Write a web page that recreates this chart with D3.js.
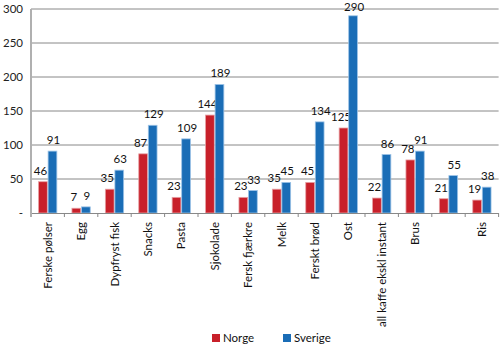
<!DOCTYPE html>
<html><head><meta charset="utf-8">
<script src="https://cdn.jsdelivr.net/npm/d3@7"></script>
<style>body{margin:0;background:#fff}svg{display:block}text{font-family:Lato,"Open Sans",sans-serif}</style>
</head><body>
<svg id="c" width="500" height="346"></svg>
<script>
const categories = ["Ferske pølser","Egg","Dypfryst fisk","Snacks","Pasta","Sjokolade","Fersk fjærkre","Melk","Ferskt brød","Ost","all kaffe ekskl instant","Brus","","Ris"];
const norge = [46,7,35,87,23,144,23,35,45,125,22,78,21,19];
const sverige = [91,9,63,129,109,189,33,45,134,290,86,91,55,38];
const yTicks = [0,50,100,150,200,250,300];
const seriesNames = ["Norge","Sverige"];
const colors = ["#c8202a","#1a6db6"];
const strokes = ["#e6a0a4","#9cc3e6"];

const svg = d3.select("#c");
const x0 = 31, x1 = 498.6, yTop = 9, yBot = 213;
const x = d3.scaleBand().domain(d3.range(categories.length)).range([x0,x1]).paddingInner(0).paddingOuter(0);
const y = d3.scaleLinear().domain([0,300]).range([yBot,yTop]);
const inner = d3.scaleBand().domain([0,1]).range([0,x.bandwidth()]).paddingInner(0).paddingOuter(0.75);

svg.append("g").selectAll("line").data(yTicks.filter(d=>d>0)).join("line")
  .attr("x1",x0).attr("x2",x1).attr("y1",d=>y(d)).attr("y2",d=>y(d))
  .attr("stroke","#6b6b6b").attr("stroke-width",0.8);

svg.append("g").selectAll("text").data(yTicks).join("text")
  .attr("x",23).attr("y",d=>y(d)+4).attr("text-anchor","end")
  .attr("font-size",11.5).attr("fill","#222").text(d=>d===0?"-":d);

const data = [norge, sverige];
data.forEach((vals,s)=>{
  svg.append("g").selectAll("rect").data(vals).join("rect")
    .attr("x",(d,i)=>x(i)+inner(s)+0.4).attr("width",inner.bandwidth()-0.8)
    .attr("y",d=>y(d)).attr("height",d=>yBot-y(d))
    .attr("fill",colors[s]).attr("stroke",strokes[s]).attr("stroke-width",0.8);
  svg.append("g").selectAll("text").data(vals).join("text")
    .attr("x",(d,i)=>x(i)+inner(s)+inner.bandwidth()/2+(s===0?-2.5:1))
    .attr("y",d=>Math.max(y(d)-7,10.5)).attr("text-anchor","middle")
    .attr("font-size",11.5).attr("fill","#111").text(d=>d);
});

svg.append("line").attr("x1",x0).attr("x2",x1).attr("y1",yBot+0.5).attr("y2",yBot+0.5).attr("stroke","#888").attr("stroke-width",1);
svg.append("g").selectAll("line").data(d3.range(categories.length+1)).join("line")
  .attr("x1",i=>x0+i*x.bandwidth()).attr("x2",i=>x0+i*x.bandwidth())
  .attr("y1",yBot).attr("y2",yBot+4).attr("stroke","#888");
svg.append("line").attr("x1",x0).attr("x2",x0).attr("y1",yTop).attr("y2",yBot+4).attr("stroke","#b0b0b0").attr("stroke-width",2);

svg.append("g").selectAll("text").data(categories).join("text")
  .attr("transform",(d,i)=>`translate(${x(i)+x.bandwidth()/2+4},222) rotate(-90)`)
  .attr("text-anchor","end").attr("font-size",11.5).attr("fill","#111").text(d=>d);

const leg = [{x:212},{x:283}];
leg.forEach((l,s)=>{
  svg.append("rect").attr("x",l.x).attr("y",334).attr("width",8).attr("height",8).attr("fill",colors[s]);
  svg.append("text").attr("x",l.x+11).attr("y",342).attr("font-size",11.5).attr("fill","#111").text(seriesNames[s]);
});
</script>
</body></html>
